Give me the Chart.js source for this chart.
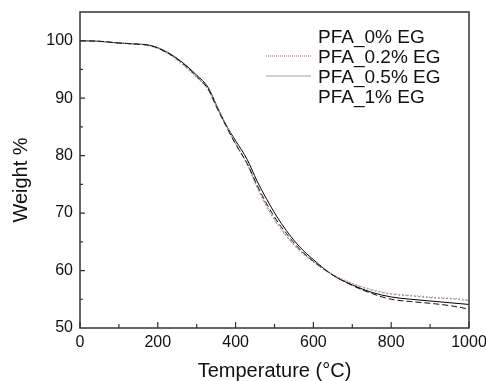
<!DOCTYPE html>
<html>
<head>
<meta charset="utf-8">
<script src="https://cdn.jsdelivr.net/npm/chart.js@4/dist/chart.umd.min.js"></script>
<style>
  html, body { margin: 0; padding: 0; background: #fff; }
  #wrap { width: 486px; height: 381px; }
</style>
</head>
<body>
<div id="wrap"><canvas id="myChart" width="486" height="381"></canvas></div>
<script>
"use strict"

// temperature points (°C)
let temps = [0, 50, 100, 150, 170, 200, 250, 300, 330, 350, 375, 400, 430, 455, 480, 505, 530, 565, 600, 650, 700, 750, 800, 850, 900, 950, 1000];

// weight % for each sample
let pfa0 = [100, 99.9, 99.6, 99.4, 99.3, 98.7, 96.8, 93.8, 91.5, 88.6, 85.2, 82.0, 78.6, 74.9, 71.6, 68.8, 66.5, 63.7, 61.6, 59.2, 57.4, 56.0, 55.0, 54.6, 54.3, 53.9, 53.3];
let pfa02 = [100, 99.9, 99.6, 99.4, 99.3, 98.8, 96.6, 93.6, 91.4, 88.8, 85.4, 82.2, 78.4, 74.5, 71.0, 68.3, 66.0, 63.4, 61.5, 59.3, 57.8, 56.7, 56.0, 55.7, 55.4, 55.2, 54.9];
let pfa05 = [100, 99.9, 99.6, 99.4, 99.2, 98.7, 96.7, 93.7, 91.5, 88.7, 85.3, 82.1, 78.5, 74.6, 71.2, 68.4, 66.1, 63.5, 61.6, 59.3, 57.7, 56.6, 55.9, 55.6, 55.3, 55.1, 54.8];
let pfa1 = [100, 99.9, 99.6, 99.4, 99.3, 98.8, 96.9, 94.0, 91.8, 88.9, 85.4, 82.6, 79.3, 75.6, 72.4, 69.5, 67.0, 64.1, 61.9, 59.2, 57.5, 56.2, 55.4, 55.0, 54.7, 54.4, 54.1];

let seriesNames = ["PFA_0% EG", "PFA_0.2% EG", "PFA_0.5% EG", "PFA_1% EG"];
let xTicks = [0, 200, 400, 600, 800, 1000];
let yTicks = [50, 60, 70, 80, 90, 100];
let xTitle = "Temperature (°C)";
let yTitle = "Weight %";

function pts(ys) {
  let out = [];
  for (let i = 0; i < temps.length; i++) {
    out.push({ x: temps[i], y: ys[i] });
  }
  return out;
}

// legend line look as it shows in the picture (two of them are not visible)
let legendLine = ["rgba(0,0,0,0)", "#c0504d", "#a0a0a0", "rgba(0,0,0,0)"];
let legendDash = [[], [1, 1], [], []];

// frame, inward ticks, legend and axis titles
const framePlugin = {
  id: "frame",
  afterDraw(chart) {
    const ctx = chart.ctx;
    const a = chart.chartArea;
    const xs = chart.scales.x;
    const ys = chart.scales.y;
    ctx.save();
    ctx.strokeStyle = "#333";
    ctx.lineWidth = 1.5;
    ctx.strokeRect(a.left, a.top, a.right - a.left, a.bottom - a.top);
    ctx.lineWidth = 1.2;
    ctx.beginPath();
    for (let t = 0; t <= 1000; t += 100) {
      const px = xs.getPixelForValue(t);
      const len = t % 200 === 0 ? 6 : 4;
      ctx.moveTo(px, a.bottom);
      ctx.lineTo(px, a.bottom - len);
    }
    for (let w = 55; w <= 100; w += 5) {
      const py = ys.getPixelForValue(w);
      const len = w % 10 === 0 ? 5 : 3;
      ctx.moveTo(a.left, py);
      ctx.lineTo(a.left + len, py);
    }
    ctx.stroke();

    // legend
    ctx.font = "19px 'Liberation Sans'";
    ctx.fillStyle = "#111";
    ctx.textBaseline = "alphabetic";
    ctx.textAlign = "left";
    for (let i = 0; i < seriesNames.length; i++) {
      const base = 43 + i * 20;
      ctx.fillText(seriesNames[i], 318, base);
      ctx.beginPath();
      ctx.strokeStyle = legendLine[i];
      ctx.lineWidth = 1;
      ctx.setLineDash(legendDash[i]);
      ctx.moveTo(266, base - 7);
      ctx.lineTo(311, base - 7);
      ctx.stroke();
      ctx.setLineDash([]);
    }

    // axis titles
    ctx.font = "20px 'Liberation Sans'";
    ctx.textAlign = "center";
    ctx.fillText(xTitle, (a.left + a.right) / 2, 377);
    ctx.translate(27, 180);
    ctx.rotate(-Math.PI / 2);
    ctx.fillText(yTitle, 0, 0);
    ctx.restore();
  }
};

const ctx = document.getElementById("myChart").getContext("2d");
const myChart = new Chart(ctx, {
  type: "line",
  data: {
    datasets: [
      { label: seriesNames[0], data: pts(pfa0), borderColor: "#111", borderWidth: 1, borderDash: [6, 3] },
      { label: seriesNames[1], data: pts(pfa02), borderColor: "#c98a8a", borderWidth: 1.2, borderDash: [1, 2] },
      { label: seriesNames[2], data: pts(pfa05), borderColor: "#999", borderWidth: 1.2, borderDash: [2, 2] },
      { label: seriesNames[3], data: pts(pfa1), borderColor: "#000", borderWidth: 1 }
    ]
  },
  options: {
    responsive: false,
    animation: false,
    devicePixelRatio: 1,
    elements: { point: { radius: 0 }, line: { tension: 0.4, cubicInterpolationMode: "monotone" } },
    layout: { padding: { top: 12, right: 17, left: 0, bottom: 0 } },
    plugins: {
      tooltip: { enabled: false },
      legend: { display: false }
    },
    scales: {
      x: {
        type: "linear",
        min: 0,
        max: 1000,
        afterFit(scale) {
          scale.height = 53;
          scale.paddingLeft = 0;
          scale.paddingRight = 0;
        },
        afterBuildTicks(scale) { scale.ticks = xTicks.map(v => ({ value: v })); },
        grid: { display: false, drawTicks: false },
        border: { display: false },
        ticks: { font: { family: "Liberation Sans", size: 16 }, color: "#111", padding: 5, maxRotation: 0, callback: v => String(v) }
      },
      y: {
        min: 50,
        max: 105,
        afterFit(scale) {
          scale.width = 80;
          scale.paddingTop = 0;
          scale.paddingBottom = 0;
        },
        afterBuildTicks(scale) { scale.ticks = yTicks.map(v => ({ value: v })); },
        grid: { display: false, drawTicks: false },
        border: { display: false },
        ticks: { font: { family: "Liberation Sans", size: 16 }, color: "#111", padding: 7 }
      }
    }
  },
  plugins: [framePlugin]
});
</script>
</body>
</html>
